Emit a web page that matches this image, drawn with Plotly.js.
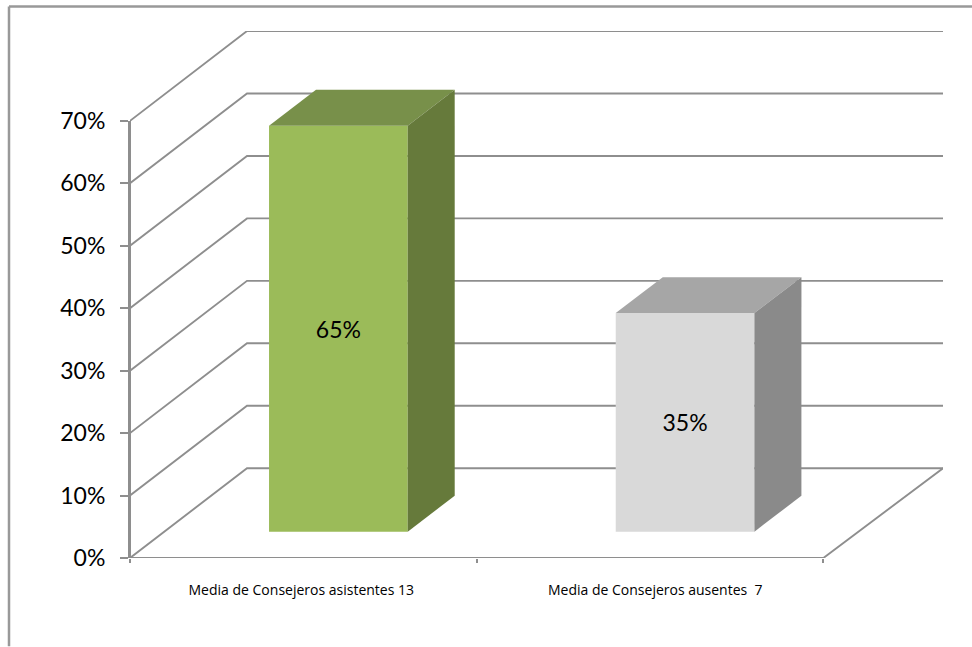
<!DOCTYPE html>
<html>
<head>
<meta charset="utf-8">
<script src="https://cdn.plot.ly/plotly-3.0.1.min.js"></script>
<style>html,body{margin:0;padding:0;background:#fff;overflow:hidden}</style>
</head>
<body>
<div id="chart" style="width:972px;height:647px"></div>
<script>
// Data
const categories = ["Media de Consejeros asistentes 13", "Media de Consejeros ausentes\u00A0\u00A07"];
const values = [65, 35];
const valueLabels = ["65%", "35%"];
const tickValues = [0, 10, 20, 30, 40, 50, 60, 70];
const tickLabels = ["0%", "10%", "20%", "30%", "40%", "50%", "60%", "70%"];

// Styles
const frontColors = ["#9BBB59", "#D9D9D9"];
const topColors = ["#78904A", "#A6A6A6"];
const sideColors = ["#667A3B", "#8A8A8A"];
const lineColor = "#8E8E8E";
const font = "Lato, 'Open Sans', sans-serif";
const smallFont = "'Open Sans', Lato, sans-serif";

// Oblique projection, in axis units
const W = 972, H = 647, mL = 130, mR = 29, mT = 30.5, mB = 88.5;
const xMax = (W - mL - mR) / 346.7;
const yMax = (H - mT - mB) / 6.257;
const wallDx = 117 / 346.7, wallDy = 14.38;    // full depth of the chart box
const floorDx = 0.101, floorDy = 4.22;         // where the front of the bars sits
const barDx = 47 / 346.7, barDy = 5.75;        // depth of a bar
const barWidth = 0.4;
const yTop = tickValues[tickValues.length - 1];

// Gridlines, walls and axis lines
const gx = [], gy = [];
tickValues.forEach(v => {
  gx.push(0, wallDx, xMax, null);
  gy.push(v, v + wallDy, v + wallDy, null);
});
gx.push(0, 2, xMax);
gy.push(0, 0, wallDy);

const traces = [{
  type: "scatter", mode: "lines", x: gx, y: gy, xaxis: "x", yaxis: "y",
  line: {color: lineColor, width: 1.9, simplify: false}, cliponaxis: false, hoverinfo: "skip"
}, {
  // carries the value axis, which stops at the top tick
  type: "scatter", mode: "lines", x: [0, 0], y: [0, yTop], xaxis: "x", yaxis: "y3",
  line: {color: lineColor, width: 2, simplify: false}, cliponaxis: false, hoverinfo: "skip"
}];

// Box faces
categories.forEach((c, i) => {
  const x0 = i + 0.5 + floorDx - barWidth / 2, x1 = x0 + barWidth;
  const b = floorDy, t = values[i];
  const top = b + t;
  traces.push({
    type: "scatter", mode: "lines", xaxis: "x2", yaxis: "y2", fill: "toself",
    x: [x0, x1, x1 + barDx, x0 + barDx, x0], y: [top, top, top + barDy, top + barDy, top],
    fillcolor: topColors[i], line: {width: 0, color: topColors[i]}, hoverinfo: "skip"
  });
  traces.push({
    type: "scatter", mode: "lines", xaxis: "x2", yaxis: "y2", fill: "toself",
    x: [x1, x1 + barDx, x1 + barDx, x1, x1], y: [b, b + barDy, top + barDy, top, b],
    fillcolor: sideColors[i], line: {width: 0, color: sideColors[i]}, hoverinfo: "skip"
  });
});

// Front faces
traces.push({
  type: "bar", xaxis: "x2", yaxis: "y2",
  x: categories.map((c, i) => i + 0.5 + floorDx),
  y: values, base: values.map(() => floorDy), width: barWidth,
  marker: {color: frontColors, line: {width: 0}},
  text: valueLabels, textposition: "inside", insidetextanchor: "middle", textangle: 0,
  insidetextfont: {family: font, size: 23, color: "#000"},
  hoverinfo: "skip"
});

const layout = {
  width: W, height: H, autosize: false,
  margin: {l: mL, r: mR, t: mT, b: mB, pad: 0},
  paper_bgcolor: "#fff", plot_bgcolor: "rgba(0,0,0,0)",
  showlegend: false, hovermode: false,
  xaxis: {
    range: [0, xMax], showgrid: false, zeroline: false, showline: false,
    tickmode: "array", tickvals: [0.494, 1.515], ticktext: categories,
    ticks: "", ticklabelstandoff: 22, tickangle: 0,
    tickfont: {family: smallFont, size: 14, color: "#000"}
  },
  yaxis: {
    range: [0, yMax], showgrid: false, zeroline: false, showline: false,
    showticklabels: false, ticks: ""
  },
  yaxis3: {
    domain: [0, yTop / yMax], range: [0, yTop], anchor: "x",
    showgrid: false, zeroline: false, showline: true, linecolor: lineColor, linewidth: 2,
    tickmode: "array", tickvals: tickValues, ticktext: tickLabels,
    ticks: "outside", ticklen: 8, tickwidth: 2, tickcolor: lineColor, ticklabelstandoff: 10,
    tickfont: {family: font, size: 23, color: "#000"}
  },
  xaxis2: {
    range: [0, xMax], overlaying: "x", anchor: "y2", showgrid: false, zeroline: false, showline: false,
    tickmode: "array", tickvals: [0, 1, 2], ticks: "outside", ticklen: 4, tickwidth: 2,
    tickcolor: lineColor, showticklabels: false
  },
  yaxis2: {
    range: [0, yMax], overlaying: "y", anchor: "x2", showgrid: false, zeroline: false, showline: false,
    showticklabels: false, ticks: ""
  },
  shapes: [
    {type: "line", layer: "below", xref: "paper", yref: "paper",
     x0: (9 - mL) / (W - mL - mR), x1: (W - mL) / (W - mL - mR),
     y0: (H - mB - 6) / (H - mT - mB), y1: (H - mB - 6) / (H - mT - mB),
     line: {color: "#999", width: 2.5}},
    {type: "line", layer: "below", xref: "paper", yref: "paper",
     x0: (9 - mL) / (W - mL - mR), x1: (9 - mL) / (W - mL - mR),
     y0: (H - mB - 6) / (H - mT - mB), y1: (H - mB - H) / (H - mT - mB),
     line: {color: "#999", width: 2.5}}
  ]
};

Plotly.newPlot("chart", traces, layout, {staticPlot: true, displayModeBar: false});
</script>
</body>
</html>
